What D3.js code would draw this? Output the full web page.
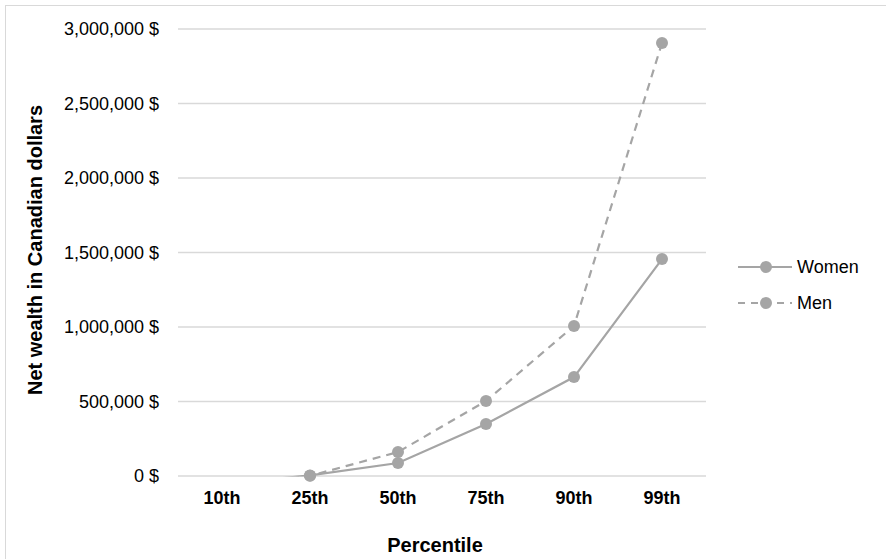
<!DOCTYPE html>
<html><head><meta charset="utf-8">
<script src="https://cdn.jsdelivr.net/npm/d3@7"></script>
<style>body{margin:0;background:#fff;}svg{display:block;font-family:"Liberation Sans",Arial,sans-serif;}</style>
</head><body>
<svg id="chart" width="886" height="559"></svg>
<script>
const categories = ["10th","25th","50th","75th","90th","99th"];
const women = [-55000, 4000, 87000, 349000, 664000, 1456000];
const men = [-90000, 1000, 161000, 503000, 1007000, 2906000];
const yTicks = [0, 500000, 1000000, 1500000, 2000000, 2500000, 3000000];
const seriesNames = ["Women","Men"];

const svg = d3.select("#chart");
const W = 886, H = 559;
const plot = {left:178, right:706, top:29, bottom:476};
const gray = "#a5a5a5";

svg.append("rect").attr("x",5.5).attr("y",5.5).attr("width",W+10).attr("height",H+10)
  .attr("fill","#fff").attr("stroke","#d9d9d9").attr("stroke-width",1);

const x = d3.scaleBand().domain(categories).range([plot.left, plot.right]);
const y = d3.scaleLinear().domain([0, 3000000]).range([plot.bottom, plot.top]);

// gridlines
svg.append("g").selectAll("line").data(yTicks).join("line")
  .attr("x1", plot.left).attr("x2", plot.right)
  .attr("y1", d => y(d)).attr("y2", d => y(d))
  .attr("stroke","#d9d9d9").attr("stroke-width",1.3);

// y axis labels
const fmt = d3.format(",");
svg.append("g").selectAll("text").data(yTicks).join("text")
  .attr("x", 159).attr("y", d => y(d)).attr("dy","0.35em")
  .attr("text-anchor","end").attr("font-size",18).attr("fill","#000")
  .text(d => fmt(d) + " $");

// x axis labels
svg.append("g").selectAll("text").data(categories).join("text")
  .attr("x", d => x(d) + x.bandwidth()/2).attr("y", 504)
  .attr("text-anchor","middle").attr("font-size",18).attr("font-weight","bold").attr("fill","#000")
  .text(d => d);

// axis titles
svg.append("text").attr("x", 435).attr("y", 552).attr("text-anchor","middle")
  .attr("font-size",20).attr("font-weight","bold").text("Percentile");
svg.append("text").attr("transform","translate(42,250) rotate(-90)").attr("text-anchor","middle")
  .attr("font-size",20).attr("font-weight","bold").text("Net wealth in Canadian dollars");

// clip
svg.append("clipPath").attr("id","clip").append("rect")
  .attr("x", plot.left).attr("y", 0).attr("width", plot.right-plot.left).attr("height", plot.bottom + 0.6);

const line = d3.line().x((d,i) => x(categories[i]) + x.bandwidth()/2).y(d => y(d));
const series = [{name:"Women", values:women, dash:null},{name:"Men", values:men, dash:"8,6"}];

const g = svg.append("g").attr("clip-path","url(#clip)");
const gm = svg.append("g");
series.forEach(s => {
  g.append("path").datum(s.values).attr("d", line)
    .attr("fill","none").attr("stroke",gray).attr("stroke-width",2.2)
    .attr("stroke-dasharray", s.dash);
  gm.selectAll(null).data(s.values.map((v,i)=>({v,i})).filter(d => d.v >= 0)).join("circle")
    .attr("cx", d => x(categories[d.i]) + x.bandwidth()/2).attr("cy", d => y(d.v))
    .attr("r", 6).attr("fill", gray);
});

// legend
const leg = svg.append("g");
series.forEach((s,i) => {
  const ly = 267 + i*36;
  leg.append("line").attr("x1",738).attr("x2",792).attr("y1",ly).attr("y2",ly)
    .attr("stroke",gray).attr("stroke-width",2.2).attr("stroke-dasharray", s.dash ? "7,6" : null);
  leg.append("circle").attr("cx",766).attr("cy",ly).attr("r",6).attr("fill",gray);
  leg.append("text").attr("x",797).attr("y",ly).attr("dy","0.35em").attr("font-size",18).attr("fill","#000").text(seriesNames[i]);
});
</script>
</body></html>
